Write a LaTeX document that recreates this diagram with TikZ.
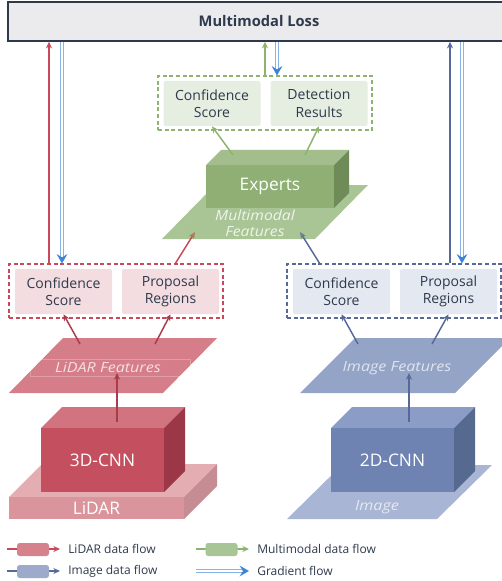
\documentclass[tikz,border=0pt]{standalone}
\usepackage{fontspec}
\setmainfont{Open Sans}
\usetikzlibrary{arrows.meta}
\definecolor{textc}{HTML}{2E3A4C}
\definecolor{lossfill}{HTML}{EBEBEE}
\definecolor{redc}{HTML}{C9485B}
\definecolor{redd}{HTML}{A83B4C}
\definecolor{navyc}{HTML}{56699A}
\definecolor{greenc}{HTML}{8DB36F}
\definecolor{gradblue}{HTML}{3D84D6}
\definecolor{gradlight}{HTML}{86B4E6}
\definecolor{pinkfill}{HTML}{F3DDE1}
\definecolor{bluefill}{HTML}{E4E8F1}
\definecolor{greenfill}{HTML}{E6EEE2}
\definecolor{mmfeat}{HTML}{A9C595}
\definecolor{expF}{HTML}{8FAF74}
\definecolor{expT}{HTML}{A3BE8C}
\definecolor{expS}{HTML}{6F8C58}
\definecolor{lfeat}{HTML}{D57D88}
\definecolor{cnnRF}{HTML}{C4505F}
\definecolor{cnnRT}{HTML}{D17480}
\definecolor{cnnRS}{HTML}{9B3747}
\definecolor{slabF}{HTML}{DA949C}
\definecolor{slabT}{HTML}{E3ADB2}
\definecolor{slabS}{HTML}{C58C93}
\definecolor{ifeat}{HTML}{94A4C7}
\definecolor{cnnBF}{HTML}{6E83B2}
\definecolor{cnnBT}{HTML}{8B9CC6}
\definecolor{cnnBS}{HTML}{56698F}
\definecolor{imgslab}{HTML}{A9B5D4}
\definecolor{legR}{HTML}{D5828C}
\definecolor{legB}{HTML}{9DAACB}
\definecolor{legG}{HTML}{A8C596}
\begin{document}
\begin{tikzpicture}[x=0.75pt,y=-0.75pt,
  flow/.style={line width=1.1pt,-{Stealth[length=5pt,width=4.5pt]}},
  redflow/.style={flow,draw=redc},
  reddflow/.style={flow,draw=redd},
  navyflow/.style={flow,draw=navyc},
  greenflow/.style={flow,draw=greenc},
  gradflow/.style={draw=white,line width=0.8pt,
     preaction={draw=gradlight,line width=2.3pt,-,shorten >=4.5pt},
     -{Stealth[length=7pt,width=8pt,inset=2.5pt,color=gradblue]}},
  inbox/.style={rectangle,rounded corners=1.5pt,minimum width=72.75pt,minimum height=33.75pt,
     align=center,font=\fontsize{10.5}{13}\selectfont,text=textc,inner sep=0pt},
  dbox/.style={rectangle,line width=0.9pt,dash pattern=on 3pt off 2pt,
     minimum width=160.5pt,minimum height=40.5pt,inner sep=0pt},
  cubetext/.style={text=white,font=\fontsize{13}{15}\selectfont},
  feattext/.style={font=\itshape\fontsize{10.5}{12}\selectfont,align=center},
  legrect/.style={rectangle,rounded corners=2pt,minimum width=24pt,minimum height=9.75pt,inner sep=0pt},
  legtext/.style={anchor=west,text=textc,font=\fontsize{9}{11}\selectfont,inner sep=0pt}]
\clip (0,0) rectangle (502,581);
\fill[white] (0,0) rectangle (502,581);

% ---------- Multimodal Loss ----------
\node[rectangle,draw=textc,line width=1.1pt,fill=lossfill,minimum width=376.5pt,minimum height=29.25pt,
  text=textc,font=\bfseries\fontsize{11}{13}\selectfont] (loss) at (259,21.5) {Multimodal Loss};

% ---------- Multimodal branch ----------
\node[dbox,draw=greenc] (mmbox) at (265,103) {};
\node[inbox,fill=greenfill] (mmconf) at (212,103.5) {Confidence\\Score};
\node[inbox,fill=greenfill] (mmdet) at (319,103.5) {Detection\\Results};

\fill[mmfeat] (162,239) -- (315,239) -- (368,185) -- (215,185) -- cycle;
\node[feattext,text=white,opacity=0.8] (mmfeattext) at (255,223.5) {\scalebox{1.12}[1]{Multimodal}\\\scalebox{1.12}[1]{Features}};
\fill[expT] (206,165) -- (221,150) -- (349,150) -- (334,165) -- cycle;
\fill[expS] (334,165) -- (349,150) -- (349,193) -- (334,208) -- cycle;
\node[rectangle,fill=expF,minimum width=96pt,minimum height=32.25pt,inner sep=0pt,cubetext] (experts) at (270,186.5) {Experts};

\coordinate (e1) at (233,155);
\coordinate (e2) at (305,155);
\draw[greenflow] (e1) -- (mmconf.south);
\draw[greenflow] (e2) -- (mmdet.south);

% ---------- LiDAR branch ----------
\node[dbox,draw=redc] (lbox) at (116,291) {};
\node[inbox,fill=pinkfill] (lconf) at (63.5,291.5) {Confidence\\Score};
\node[inbox,fill=pinkfill] (lprop) at (170.5,291.5) {Proposal\\Regions};

\fill[lfeat] (9,393) -- (163,393) -- (217,338) -- (63,338) -- cycle;
\draw[white,opacity=0.25,line width=0.5pt] (30,359) rectangle (190,376);
\node[feattext,text=white,opacity=0.75] (lfeattext) at (108,367) {\scalebox{1.15}[1]{LiDAR Features}};

\fill[slabT] (9,497) -- (42,464) -- (217,464) -- (184,497) -- cycle;
\fill[slabS] (184,497) -- (217,464) -- (217,486) -- (184,519) -- cycle;
\node[rectangle,fill=slabF,minimum width=131.25pt,minimum height=16.5pt,inner sep=0pt,cubetext] (lidar) at (96.5,508) {LiDAR};

\fill[cnnRT] (41,428) -- (62,407) -- (185,407) -- (164,428) -- cycle;
\fill[cnnRS] (164,428) -- (185,407) -- (185,471) -- (164,492) -- cycle;
\node[rectangle,fill=cnnRF,minimum width=92.25pt,minimum height=48pt,inner sep=0pt,cubetext] (cnn3) at (102.5,460) {3D-CNN};

\coordinate (c3a) at (117,422);
\coordinate (c3b) at (117,373);
\draw[reddflow] (c3a) -- (c3b);
\coordinate (lf1) at (80,344);
\coordinate (lf2) at (155,344);
\draw[reddflow] (lf1) -- (lconf.south);
\draw[reddflow] (lf2) -- (lprop.south);

% ---------- Image branch ----------
\node[dbox,draw=navyc] (ibox) at (394,291) {};
\node[inbox,fill=bluefill] (iconf) at (341.5,291.5) {Confidence\\Score};
\node[inbox,fill=bluefill] (iprop) at (448.5,291.5) {Proposal\\Regions};

\fill[ifeat] (300,393) -- (455,393) -- (510,338) -- (355,338) -- cycle;
\node[feattext,text=white,opacity=0.7] (ifeattext) at (397,368) {\scalebox{1.15}[1]{Image Features}};

\fill[imgslab] (287,519) -- (437,519) -- (492,465) -- (342,465) -- cycle;
\node[feattext,text=white,opacity=0.7] (imgtext) at (377,507) {\scalebox{1.15}[1]{Image}};

\fill[cnnBT] (331,428) -- (352,407) -- (475,407) -- (454,428) -- cycle;
\fill[cnnBS] (454,428) -- (475,407) -- (475,471) -- (454,492) -- cycle;
\node[rectangle,fill=cnnBF,minimum width=92.25pt,minimum height=48pt,inner sep=0pt,cubetext] (cnn2) at (392.5,460) {2D-CNN};

\coordinate (c2a) at (409,422);
\coordinate (c2b) at (409,373);
\draw[navyflow] (c2a) -- (c2b);
\coordinate (if1) at (358,344);
\coordinate (if2) at (432,344);
\draw[navyflow] (if1) -- (iconf.south);
\draw[navyflow] (if2) -- (iprop.south);

% ---------- into multimodal features ----------
\coordinate (lm1) at (175,264);
\coordinate (lm2) at (195,232);
\draw[flow,draw=redc,-{Stealth[length=5pt,width=4.5pt,color=brown!70!gray]}] (lm1) -- (lm2);
\coordinate (im1) at (320,264);
\coordinate (im2) at (300,232);
\draw[flow,draw=navyc,-{Stealth[length=5pt,width=4.5pt,color=navyc!60!greenc]}] (im1) -- (im2);

% ---------- to / from the loss ----------
\coordinate (xr) at (49,0);
\coordinate (xg1) at (62,0);
\coordinate (xgm) at (265,0);
\coordinate (xg2) at (277,0);
\coordinate (xn) at (450,0);
\coordinate (xg3) at (462,0);
\draw[redflow] (lbox.north -| xr) -- (loss.south -| xr);
\draw[gradflow] (loss.south -| xg1) -- (lbox.north -| xg1);
\draw[greenflow] (mmbox.north -| xgm) -- (loss.south -| xgm);
\draw[gradflow] (loss.south -| xg2) -- (mmbox.north -| xg2);
\draw[navyflow] (ibox.north -| xn) -- (loss.south -| xn);
\draw[gradflow] (loss.south -| xg3) -- (ibox.north -| xg3);

% ---------- legend ----------
\coordinate (la1) at (7,549);  \coordinate (la2) at (60,549);
\draw[redflow] (la1) -- (la2);
\node[legrect,fill=legR] (lr) at (33,549.5) {};
\node[legtext] (lrt) at (68,549) {LiDAR data flow};

\coordinate (lb1) at (7,571);  \coordinate (lb2) at (60,571);
\draw[navyflow] (lb1) -- (lb2);
\node[legrect,fill=legB] (lb) at (33,571.5) {};
\node[legtext] (lbt) at (68,571) {Image data flow};

\coordinate (lg1) at (196,549);  \coordinate (lg2) at (249,549);
\draw[greenflow] (lg1) -- (lg2);
\node[legrect,fill=legG] (lg) at (221.5,549.5) {};
\node[legtext] (lgt) at (257,549) {Multimodal data flow};

\coordinate (ld1) at (196,571);  \coordinate (ld2) at (249,571);
\draw[gradflow] (ld1) -- (ld2);
\node[legtext] (ldt) at (257,571) {Gradient flow};
\end{tikzpicture}
\end{document}
